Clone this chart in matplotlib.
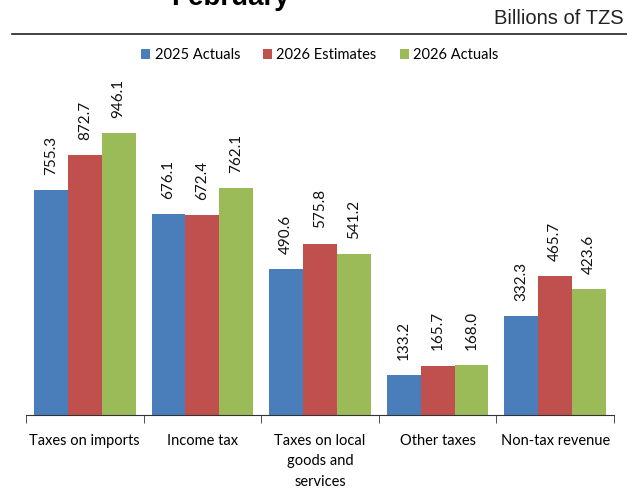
import matplotlib

matplotlib.use('Agg')

import matplotlib.pyplot as plt
import numpy as np

categories = ['Taxes on imports', 'Income tax', 'Taxes on local\ngoods and\nservices',
              'Other taxes', 'Non-tax revenue']
series_names = ['2025 Actuals', '2026 Estimates', '2026 Actuals']
actuals_2025 = [755.3, 676.1, 490.6, 133.2, 332.3]
estimates_2026 = [872.7, 672.4, 575.8, 165.7, 465.7]
actuals_2026 = [946.1, 762.1, 541.2, 168.0, 423.6]

colors = ['#4A7EBB', '#C0504D', '#9BBB59']

plt.rcParams['font.family'] = ['Lato', 'DejaVu Sans']

fig = plt.figure(figsize=(6.27, 4.96), dpi=100)
ax = fig.add_axes([26 / 627, 1 - 415 / 496, 588 / 627, 0.60])

x = np.arange(len(categories))
width = 0.288
for i, (name, vals) in enumerate(zip(series_names, [actuals_2025, estimates_2026, actuals_2026])):
    pos = x + (i - 1) * width
    ax.bar(pos, vals, width, color=colors[i], label=name, edgecolor='none')
    for px, v in zip(pos, vals):
        ax.annotate(f'{v:.1f}', (px, v), xytext=(0, 11), textcoords='offset points',
                    rotation=90, ha='center', va='bottom', fontsize=11, color='#111111')

ax.set_xlim(-0.5, len(categories) - 0.5)
ax.set_ylim(0, 1000)
ax.set_yticks([])
for s in ['left', 'right', 'top']:
    ax.spines[s].set_visible(False)
ax.spines['bottom'].set_color('#333333')
ax.set_xticks(x)
ax.set_xticklabels(categories, fontsize=10.5, linespacing=1.55)
ax.tick_params(axis='x', which='major', length=0, pad=14)
ax.set_xticks(np.arange(-0.5, len(categories)), minor=True)
ax.tick_params(axis='x', which='minor', length=6, direction='out', color='#333333')

ax.legend(loc='upper center', bbox_to_anchor=(0.5, 1.277), ncol=3,
          frameon=False, fontsize=10.5, handlelength=0.6, handleheight=0.6,
          handletextpad=0.3, columnspacing=1.6)

# title is partly cut off at the top, as in the source image
fig.text(230 / 627, 1 + 2 / 496, 'February', ha='center', va='center', fontsize=20,
         fontweight='bold', family='Liberation Sans')
fig.text(624 / 627, 1 - 19 / 496, 'Billions of TZS', ha='right', va='center', fontsize=14.5,
         family='Liberation Sans', color='#222222')
fig.add_artist(plt.Line2D([12 / 627, 1], [1 - 34 / 496] * 2, color='#222222', lw=1.2))

fig.savefig('out.png', dpi=100)
